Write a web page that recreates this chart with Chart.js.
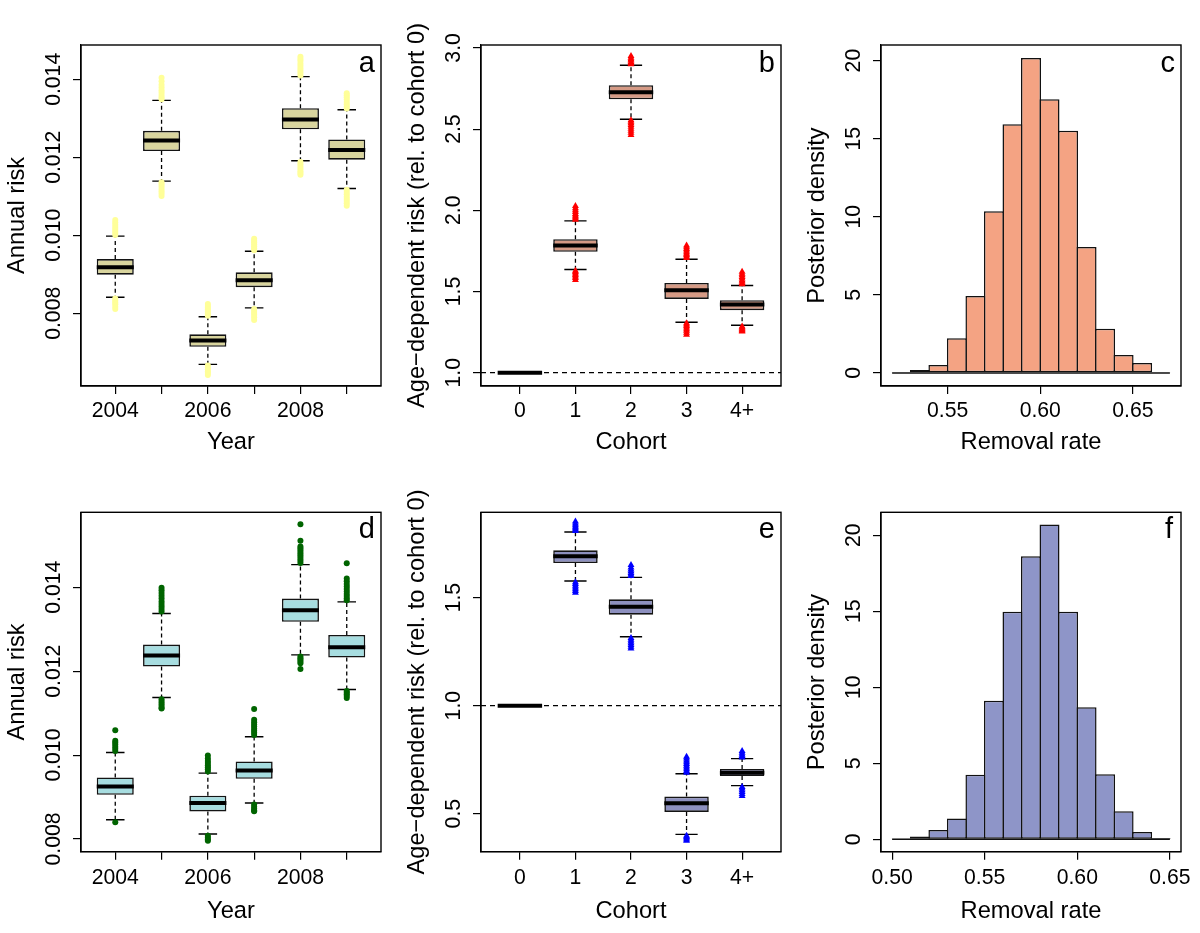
<!DOCTYPE html>
<html>
<head>
<meta charset="utf-8">
<script src="https://cdn.jsdelivr.net/npm/chart.js@4.4.1/dist/chart.umd.min.js"></script>
<style>
  body { margin: 0; background: #fff; }
  #wrap { position: relative; width: 1200px; height: 933px; overflow: hidden; background: #fff; }
  #wrap canvas { position: absolute; }
  .lab { position: absolute; width: 40px; text-align: right; font-family: 'Liberation Sans', Arial, Helvetica, sans-serif; font-size: 29px; line-height: 29px; color: #000; }
</style>
</head>
<body>
<div id="wrap">
  <canvas id="pa" width="400" height="466" style="left:0px;top:0px"></canvas>
  <canvas id="pb" width="400" height="466" style="left:400px;top:0px"></canvas>
  <canvas id="pc" width="400" height="466" style="left:800px;top:0px"></canvas>
  <canvas id="pd" width="400" height="466" style="left:0px;top:466px"></canvas>
  <canvas id="pe" width="400" height="466" style="left:400px;top:466px"></canvas>
  <canvas id="pf" width="400" height="466" style="left:800px;top:466px"></canvas>
  <div class="lab" style="left:335px;top:47.5px">a</div>
  <div class="lab" style="left:735px;top:47.5px">b</div>
  <div class="lab" style="left:1135px;top:47.5px">c</div>
  <div class="lab" style="left:335px;top:514px">d</div>
  <div class="lab" style="left:735px;top:514px">e</div>
  <div class="lab" style="left:1133px;top:514px">f</div>
</div>
<script>
// ---------------- data ----------------
const years = ['2004', '2005', '2006', '2007', '2008', '2009'];
const yearTickLabels = ['2004', '', '2006', '', '2008', ''];
const cohorts = ['0', '1', '2', '3', '4+'];

// Panel a: annual risk by year
const aQ1  = [0.00899, 0.01216, 0.00714, 0.00867, 0.01272, 0.01194];
const aQ3  = [0.00939, 0.01268, 0.00746, 0.00905, 0.01326, 0.01246];
const aMed = [0.00918, 0.01243, 0.00730, 0.00885, 0.01297, 0.01219];
const aLo  = [0.00841, 0.01139, 0.00669, 0.00814, 0.01191, 0.01120];
const aHi  = [0.00998, 0.01346, 0.00791, 0.00959, 0.01407, 0.01322];
const aOutHi = [
  [0.01001, 0.01006, 0.01011, 0.01016, 0.01021, 0.01027, 0.01033, 0.01039],
  [0.01349, 0.01354, 0.01360, 0.01366, 0.01372, 0.01379, 0.01386, 0.01395, 0.01404],
  [0.00794, 0.00799, 0.00804, 0.00809, 0.00814, 0.00819, 0.00824],
  [0.00962, 0.00967, 0.00972, 0.00977, 0.00982, 0.00986, 0.00991],
  [0.01410, 0.01416, 0.01422, 0.01428, 0.01434, 0.01440, 0.01447, 0.01452, 0.01458],
  [0.01325, 0.01330, 0.01336, 0.01342, 0.01348, 0.01354, 0.01359, 0.01364]
];
const aOutLo = [
  [0.00838, 0.00833, 0.00828, 0.00823, 0.00817, 0.00811],
  [0.01136, 0.01131, 0.01125, 0.01119, 0.01113, 0.01107, 0.01101],
  [0.00666, 0.00661, 0.00656, 0.00651, 0.00647, 0.00642],
  [0.00811, 0.00806, 0.00801, 0.00796, 0.00790, 0.00783],
  [0.01188, 0.01182, 0.01176, 0.01170, 0.01164, 0.01160, 0.01155],
  [0.01117, 0.01111, 0.01105, 0.01099, 0.01093, 0.01088, 0.01082, 0.01076]
];

// Panel b: age-dependent risk by cohort
const bQ1  = [1.0, 1.744, 2.684, 1.454, 1.385];
const bQ3  = [1.0, 1.822, 2.770, 1.553, 1.446];
const bMed = [1.0, 1.783, 2.727, 1.508, 1.420];
const bLo  = [1.0, 1.635, 2.561, 1.311, 1.292];
const bHi  = [1.0, 1.935, 2.893, 1.699, 1.537];
const bOutHi = [
  [],
  [1.942, 1.951, 1.960, 1.968, 1.977, 1.989, 2.001, 2.013, 2.027],
  [2.899, 2.906, 2.914, 2.922, 2.930, 2.940, 2.951],
  [1.706, 1.715, 1.724, 1.733, 1.742, 1.752, 1.762, 1.772, 1.783],
  [1.544, 1.552, 1.561, 1.570, 1.580, 1.590, 1.600, 1.610, 1.621]
];
const bOutLo = [
  [],
  [1.628, 1.620, 1.611, 1.602, 1.593, 1.583, 1.571],
  [2.554, 2.545, 2.536, 2.526, 2.515, 2.503, 2.490, 2.477, 2.464],
  [1.304, 1.296, 1.287, 1.278, 1.268, 1.258, 1.246, 1.233],
  [1.285, 1.278, 1.271, 1.265, 1.259, 1.253]
];

// Panel c: posterior density of removal rate
const cBinEdges = [0.52, 0.53, 0.54, 0.55, 0.56, 0.57, 0.58, 0.59, 0.60, 0.61, 0.62, 0.63, 0.64, 0.65, 0.66, 0.67];
const cDensity  = [0.03, 0.19, 0.51, 2.22, 4.92, 10.35, 15.92, 20.17, 17.53, 15.51, 8.06, 2.82, 1.15, 0.64, 0.03];

// Panel d: annual risk by year
const dQ1  = [0.009055, 0.012111, 0.008658, 0.009436, 0.013175, 0.012325];
const dQ3  = [0.009468, 0.012635, 0.009031, 0.009849, 0.013730, 0.012865];
const dMed = [0.009254, 0.012373, 0.008857, 0.009635, 0.013452, 0.012571];
const dLo  = [0.008460, 0.011373, 0.008119, 0.008857, 0.012389, 0.011563];
const dHi  = [0.010063, 0.013373, 0.009571, 0.010436, 0.014540, 0.013651];
const dOutHi = [
  [0.01010, 0.01015, 0.01020, 0.01025, 0.01030, 0.01034, 0.01059],
  [0.01342, 0.01348, 0.01354, 0.01360, 0.01366, 0.01373, 0.01380, 0.01386, 0.01393, 0.01399],
  [0.00961, 0.00966, 0.00971, 0.00976, 0.00981, 0.00986, 0.00992, 0.00999],
  [0.01048, 0.01053, 0.01058, 0.01063, 0.01068, 0.01073, 0.01078, 0.01084, 0.01110],
  [0.01458, 0.01463, 0.01468, 0.01473, 0.01478, 0.01483, 0.01488, 0.01493, 0.01497, 0.01511, 0.01550],
  [0.01369, 0.01374, 0.01379, 0.01384, 0.01390, 0.01396, 0.01402, 0.01408, 0.01414, 0.01421, 0.01457]
];
const dOutLo = [
  [0.00840],
  [0.01133, 0.01128, 0.01123, 0.01118, 0.01113, 0.01111],
  [0.00808, 0.00803, 0.00799, 0.00796],
  [0.00882, 0.00877, 0.00872, 0.00868, 0.00866],
  [0.01235, 0.01231, 0.01227, 0.01223, 0.01219, 0.01205],
  [0.01153, 0.01149, 0.01145, 0.01141, 0.01136]
];

// Panel e: age-dependent risk by cohort
const eQ1  = [1.0, 1.660, 1.421, 0.508, 0.674];
const eQ3  = [1.0, 1.719, 1.492, 0.579, 0.707];
const eMed = [1.0, 1.691, 1.458, 0.548, 0.690];
const eLo  = [1.0, 1.577, 1.319, 0.404, 0.630];
const eHi  = [1.0, 1.804, 1.594, 0.685, 0.755];
const eOutHi = [
  [],
  [1.809, 1.815, 1.821, 1.828, 1.835, 1.843, 1.852],
  [1.600, 1.607, 1.614, 1.622, 1.630, 1.640, 1.651],
  [0.690, 0.698, 0.706, 0.714, 0.722, 0.730, 0.738, 0.746, 0.755, 0.764],
  [0.760, 0.767, 0.774, 0.782, 0.790]
];
const eOutLo = [
  [],
  [1.571, 1.563, 1.555, 1.547, 1.539, 1.531, 1.523],
  [1.313, 1.305, 1.297, 1.289, 1.281, 1.273, 1.265],
  [0.398, 0.392, 0.386, 0.380, 0.375],
  [0.624, 0.616, 0.608, 0.600, 0.591, 0.582]
];

// Panel f: posterior density of removal rate
const fBinEdges = [0.50, 0.51, 0.52, 0.53, 0.54, 0.55, 0.56, 0.57, 0.58, 0.59, 0.60, 0.61, 0.62, 0.63, 0.64, 0.65];
const fDensity  = [0.02, 0.18, 0.61, 1.36, 4.25, 9.12, 14.96, 18.62, 20.70, 14.96, 8.68, 4.28, 1.84, 0.48, 0.09];

// Tick values and labels
const riskTicks = [0.008, 0.010, 0.012, 0.014];
const riskTickLabels = ['0.008', '0.010', '0.012', '0.014'];
const bYTicks = [1.0, 1.5, 2.0, 2.5, 3.0];
const bYTickLabels = ['1.0', '1.5', '2.0', '2.5', '3.0'];
const eYTicks = [0.5, 1.0, 1.5];
const eYTickLabels = ['0.5', '1.0', '1.5'];
const densTicks = [0, 5, 10, 15, 20];
const densTickLabels = ['0', '5', '10', '15', '20'];
const cXTicks = [0.55, 0.60, 0.65];
const cXTickLabels = ['0.55', '0.60', '0.65'];
const fXTicks = [0.50, 0.55, 0.60, 0.65];
const fXTickLabels = ['0.50', '0.55', '0.60', '0.65'];
const yearPositions = [1, 2, 3, 4, 5, 6];
const cohortPositions = [1, 2, 3, 4, 5];

// ---------------- styling / layout ----------------
const FONT = "'Liberation Sans', Arial, Helvetica, sans-serif";
Chart.defaults.font.family = FONT;
Chart.defaults.color = '#000';
const TICK_SIZE = 21.2, TITLE_SIZE = 23.7, TL = 8;
const CANVAS_H = 466, AXIS_W = 81, PAD_RIGHT = 19, Y_LABEL_CENTER = 54.3;
const BOX_HALF = 0.4, CAP_HALF = 0.2;
const ROW_TOP = { top: 45, bottom: 386, xTickPad: 4.1, xTitlePad: 9.1 };
const ROW_BOT = { top: 46.3, bottom: 385.7, xTickPad: 5.8, xTitlePad: 6.8 };

function maxTextWidth(labels, size) {
  const c = document.createElement('canvas').getContext('2d');
  c.font = size + 'px ' + FONT;
  return Math.max.apply(null, labels.map(l => c.measureText(l).width));
}

const framePlugin = {
  id: 'frame',
  afterDatasetsDraw(chart) {
    const { ctx, chartArea: a } = chart;
    ctx.save();
    ctx.strokeStyle = '#000';
    ctx.lineWidth = 1.4;
    ctx.strokeRect(a.left, a.top, a.right - a.left, a.bottom - a.top);
    ctx.restore();
  }
};

function makeOptions(o, row) {
  const yPad = (AXIS_W - TL - Y_LABEL_CENTER) - maxTextWidth(o.yLabels, TICK_SIZE) / 2;
  return {
    responsive: false,
    animation: false,
    events: [],
    layout: { padding: { left: 0, right: PAD_RIGHT, top: row.top, bottom: 0 } },
    plugins: { legend: { display: false }, tooltip: { enabled: false }, title: { display: false } },
    scales: {
      x: {
        type: 'linear', min: o.xMin, max: o.xMax, offset: false,
        afterBuildTicks: s => { s.ticks = o.xTicks.map(v => ({ value: v })); },
        afterFit: s => { s.height = CANVAS_H - row.bottom; },
        ticks: { autoSkip: false, minRotation: 0, maxRotation: 0, padding: row.xTickPad,
                 font: { size: TICK_SIZE }, color: '#000', callback: (v, i) => o.xLabels[i] },
        grid: { display: true, offset: false, drawOnChartArea: false, drawTicks: true, tickLength: TL, color: '#000', lineWidth: 1.2 },
        border: { display: true, color: '#000', width: 1.2 },
        title: { display: true, text: o.xTitle, font: { size: TITLE_SIZE }, color: '#000', padding: { top: 0, bottom: row.xTitlePad } }
      },
      y: {
        type: 'linear', min: o.yMin, max: o.yMax, beginAtZero: false,
        afterBuildTicks: s => { s.ticks = o.yTicks.map(v => ({ value: v })); },
        afterFit: s => { s.width = AXIS_W; },
        ticks: { autoSkip: false, minRotation: 90, maxRotation: 90, crossAlign: 'center', padding: yPad,
                 font: { size: TICK_SIZE }, color: '#000', callback: (v, i) => o.yLabels[i] },
        grid: { display: true, drawOnChartArea: false, drawTicks: true, tickLength: TL, color: '#000', lineWidth: 1.2 },
        border: { display: true, color: '#000', width: 1.2 },
        title: { display: true, text: o.yTitle, font: { size: TITLE_SIZE }, color: '#000', padding: { top: 3.4, bottom: 0 } }
      }
    }
  };
}

function boxDatasets(s) {
  const whisk = [], caps = [], meds = [], boxes = [], outs = [];
  s.q1.forEach((_, i) => {
    const x = s.pos[i];
    whisk.push({ x, y: s.q3[i] }, { x, y: s.hi[i] }, { x, y: null }, { x, y: s.q1[i] }, { x, y: s.lo[i] }, { x, y: null });
    caps.push({ x: x - CAP_HALF, y: s.hi[i] }, { x: x + CAP_HALF, y: s.hi[i] }, { x, y: null },
              { x: x - CAP_HALF, y: s.lo[i] }, { x: x + CAP_HALF, y: s.lo[i] }, { x, y: null });
    meds.push({ x: x - BOX_HALF, y: s.med[i] }, { x: x + BOX_HALF, y: s.med[i] }, { x, y: null });
    boxes.push({ x, y: [s.q1[i], s.q3[i]] });
    s.outHi[i].concat(s.outLo[i]).forEach(v => outs.push({ x, y: v }));
  });
  const ds = [
    { type: 'line', label: 'whiskers', data: whisk, borderColor: '#000', borderWidth: 1.3, borderDash: [4, 3],
      pointRadius: 0, spanGaps: false, order: 6 },
    { type: 'line', label: 'caps', data: caps, borderColor: '#000', borderWidth: 1.4, pointRadius: 0, spanGaps: false, order: 5 },
    { type: 'bar', label: 'boxes', data: boxes, backgroundColor: s.fill, borderColor: '#141414', borderWidth: 1.6,
      borderSkipped: false, barPercentage: 0.8, categoryPercentage: 1, order: 4 },
    { type: 'line', label: 'medians', data: meds, borderColor: '#000', borderWidth: 4, borderCapStyle: 'butt',
      pointRadius: 0, spanGaps: false, order: 3 },
    { type: 'scatter', label: 'outliers', data: outs, pointStyle: s.ptStyle, pointRadius: s.ptRadius,
      pointHoverRadius: s.ptRadius, pointBackgroundColor: s.ptColor, pointBorderColor: s.ptColor, pointBorderWidth: 0, order: 1 }
  ];
  if (s.refY !== undefined) {
    ds.push({ type: 'line', label: 'reference', data: [{ x: s.xMin, y: s.refY }, { x: s.xMax, y: s.refY }],
      borderColor: '#000', borderWidth: 1.2, borderDash: [5, 4], pointRadius: 0, order: 2 });
  }
  return ds;
}

function histDatasets(edges, dens, fill) {
  const bars = dens.map((d, i) => ({ x: edges[i] + (edges[i + 1] - edges[i]) / 2, y: d }));
  return [
    { type: 'bar', label: 'density', data: bars, backgroundColor: fill, borderColor: '#111', borderWidth: 1.5,
      borderSkipped: false, barPercentage: 1.08, categoryPercentage: 1, order: 2 },
    { type: 'line', label: 'base', data: [{ x: edges[0], y: 0 }, { x: edges[edges.length - 1], y: 0 }],
      borderColor: '#111', borderWidth: 1.5, pointRadius: 0, order: 1 }
  ];
}

function boxChart(id, s, axes, row) {
  s.xMin = axes.xMin; s.xMax = axes.xMax;
  new Chart(document.getElementById(id), {
    type: 'bar',
    data: { datasets: boxDatasets(s) },
    options: makeOptions(axes, row),
    plugins: [framePlugin]
  });
}

function histChart(id, edges, dens, fill, axes, row) {
  new Chart(document.getElementById(id), {
    type: 'bar',
    data: { datasets: histDatasets(edges, dens, fill) },
    options: makeOptions(axes, row),
    plugins: [framePlugin]
  });
}

const yearAxes = (yMin, yMax) => ({ xMin: 0.26, xMax: 6.74, xTicks: yearPositions, xLabels: yearTickLabels,
  yMin, yMax, yTicks: riskTicks, yLabels: riskTickLabels, xTitle: 'Year', yTitle: 'Annual risk' });
const cohortAxes = (yMin, yMax, yTicks, yLabels) => ({ xMin: 0.3, xMax: 5.7, xTicks: cohortPositions, xLabels: cohorts,
  yMin, yMax, yTicks, yLabels, xTitle: 'Cohort', yTitle: 'Age\u2212dependent risk (rel. to cohort 0)' });

boxChart('pa', { pos: yearPositions, q1: aQ1, q3: aQ3, med: aMed, lo: aLo, hi: aHi, outHi: aOutHi, outLo: aOutLo,
  fill: '#D9D59E', ptColor: '#FFFF99', ptStyle: 'circle', ptRadius: 3 }, yearAxes(0.006136, 0.01488), ROW_TOP);

boxChart('pb', { pos: cohortPositions, q1: bQ1, q3: bQ3, med: bMed, lo: bLo, hi: bHi, outHi: bOutHi, outLo: bOutLo,
  fill: '#D59A85', ptColor: '#FF0000', ptStyle: 'triangle', ptRadius: 4, refY: 1 },
  cohortAxes(0.918, 3.018, bYTicks, bYTickLabels), ROW_TOP);

histChart('pc', cBinEdges, cDensity, '#F4A383', { xMin: 0.514, xMax: 0.676, xTicks: cXTicks, xLabels: cXTickLabels,
  yMin: -0.84, yMax: 21.0, yTicks: densTicks, yLabels: densTickLabels, xTitle: 'Removal rate', yTitle: 'Posterior density' }, ROW_TOP);

boxChart('pd', { pos: yearPositions, q1: dQ1, q3: dQ3, med: dMed, lo: dLo, hi: dHi, outHi: dOutHi, outLo: dOutLo,
  fill: '#A7DDE0', ptColor: '#006400', ptStyle: 'circle', ptRadius: 3 }, yearAxes(0.007698, 0.015786), ROW_BOT);

boxChart('pe', { pos: cohortPositions, q1: eQ1, q3: eQ3, med: eMed, lo: eLo, hi: eHi, outHi: eOutHi, outLo: eOutLo,
  fill: '#8D90BF', ptColor: '#0000FF', ptStyle: 'triangle', ptRadius: 4, refY: 1 },
  cohortAxes(0.324, 1.895, eYTicks, eYTickLabels), ROW_BOT);

histChart('pf', fBinEdges, fDensity, '#8E95C8', { xMin: 0.494, xMax: 0.656, xTicks: fXTicks, xLabels: fXTickLabels,
  yMin: -0.816, yMax: 21.51, yTicks: densTicks, yLabels: densTickLabels, xTitle: 'Removal rate', yTitle: 'Posterior density' }, ROW_BOT);
</script>
</body>
</html>
